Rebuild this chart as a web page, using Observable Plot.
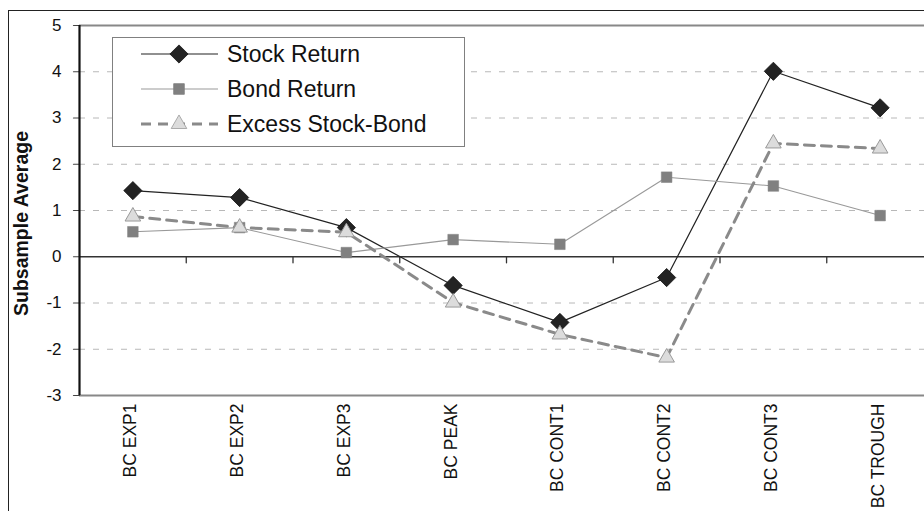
<!DOCTYPE html>
<html>
<head>
<meta charset="utf-8">
<script src="https://cdn.jsdelivr.net/npm/d3@7"></script>
<script src="https://cdn.jsdelivr.net/npm/@observablehq/plot@0.6"></script>
<style>
  html, body { margin: 0; padding: 0; background: #fff; overflow: hidden; width: 924px; height: 511px; }
  #wrap { position: relative; width: 924px; height: 511px; }
  #frame { position: absolute; left: 8px; top: 10px; width: 1000px; height: 600px;
           border-left: 1.5px solid #222; border-top: 1.5px solid #222; pointer-events: none; }
  #legend { position: absolute; left: 112px; top: 37px; width: 351px; height: 108px;
            border: 1.5px solid #808080; background: #fff; }
  #chart { position: absolute; left: 0; top: 0; }
</style>
</head>
<body>
<div id="wrap">
  <div id="chart"></div>
  <div id="frame"></div>
  <div id="legend"></div>
</div>
<script>
const categories = ["BC EXP1", "BC EXP2", "BC EXP3", "BC PEAK", "BC CONT1", "BC CONT2", "BC CONT3", "BC TROUGH"];
const stockReturn = [1.43, 1.28, 0.63, -0.62, -1.42, -0.45, 4.01, 3.22];
const bondReturn = [0.54, 0.63, 0.09, 0.37, 0.27, 1.72, 1.53, 0.89];
const excessStockBond = [0.87, 0.63, 0.53, -0.99, -1.68, -2.18, 2.45, 2.34];
const seriesNames = ["Stock Return", "Bond Return", "Excess Stock-Bond"];
const yTicks = [-3, -2, -1, 0, 1, 2, 3, 4, 5];
const yTitle = "Subsample Average";

const idx = categories.map((_, i) => i);
const bounds = idx.slice(0, -1).map(i => i + 0.5);
const FONT = "'Liberation Sans', Arial, Helvetica, sans-serif";

const stockData = idx.map(i => ({i, v: stockReturn[i]}));
const bondData = idx.map(i => ({i, v: bondReturn[i]}));
const excessData = idx.map(i => ({i, v: excessStockBond[i]}));

const tickShape = { draw(context, l) { context.moveTo(0, 0); context.lineTo(0, -l); } };

const chart = Plot.plot({
  width: 941,
  height: 511,
  marginLeft: 79,
  marginRight: 8,
  marginTop: 25,
  marginBottom: 116,
  style: { fontFamily: FONT, maxWidth: "none", background: "transparent", overflow: "visible" },
  x: { domain: [-0.5, 7.5], axis: null },
  y: { domain: [-3, 5], axis: null },
  marks: [
    Plot.gridY(yTicks.filter(t => t !== 0 && t !== 5 && t !== -3), { stroke: "#b8b8b8", strokeOpacity: 1, strokeWidth: 1, strokeDasharray: "6,8" }),
    Plot.ruleY([5], { stroke: "#888", strokeWidth: 2 }),
    Plot.ruleY([-3], { stroke: "#888", strokeWidth: 2 }),
    Plot.ruleY([0], { stroke: "#333", strokeWidth: 1.6 }),
    Plot.vector(bounds, { x: d => d, y: 0, length: 6, rotate: 180, anchor: "start", shape: tickShape, stroke: "#333", strokeWidth: 1.3 }),
    Plot.vector(yTicks, { x: -0.5, y: d => d, length: 6, rotate: -90, anchor: "start", shape: tickShape, stroke: "#444", strokeWidth: 1.2 }),
    Plot.ruleX([-0.5], { y1: -3, y2: 5, stroke: "#111", strokeWidth: 2.2 }),
    Plot.text(yTicks, { y: d => d, text: d => String(d), frameAnchor: "left", dx: -18, textAnchor: "end", lineAnchor: "middle", fontSize: 17, fill: "#111" }),
    Plot.text([yTitle], { frameAnchor: "left", dx: -58, dy: 13, rotate: -90, textAnchor: "middle", fontSize: 19.5, fontWeight: "bold", fill: "#111", lineAnchor: "middle" }),
    Plot.text(categories, { x: (d, i) => i, frameAnchor: "bottom", dy: 8, dx: -2, rotate: -90, textAnchor: "end", lineAnchor: "middle", fontSize: 17.5, fill: "#111" }),
    // Stock
    Plot.line(stockData, { x: "i", y: "v", stroke: "#222", strokeWidth: 1.2 }),
    Plot.dot(stockData, { x: "i", y: "v", symbol: "diamond2", r: 8.2, fill: "#232323", stroke: "#111", strokeWidth: 0.8 }),
    // Bond
    Plot.line(bondData, { x: "i", y: "v", stroke: "#999", strokeWidth: 1.1 }),
    Plot.dot(bondData, { x: "i", y: "v", symbol: "square", r: 6, fill: "#808080", stroke: "#808080", strokeWidth: 0.5 }),
    // Excess
    Plot.line(excessData, { x: "i", y: "v", stroke: "#8a8a8a", strokeWidth: 3, strokeDasharray: "10,7" }),
    Plot.dot(excessData, { x: "i", y: "v", symbol: "triangle", r: 5.8, fill: "#dcdcdc", stroke: "#999", strokeWidth: 1 })
  ]
});
document.getElementById("chart").appendChild(chart);

// Legend
const lg = d3.select("#legend").append("svg").attr("width", 351).attr("height", 108)
  .style("position", "absolute").style("left", 0).style("top", 0)
  .style("font-family", FONT);
const rows = [
  { name: seriesNames[0], stroke: "#222", sw: 1.2, dash: null, sym: d3.symbolDiamond2, r: 8.2, fill: "#232323", sstroke: "#111" },
  { name: seriesNames[1], stroke: "#999", sw: 1.1, dash: null, sym: d3.symbolSquare, r: 6, fill: "#808080", sstroke: "#808080" },
  { name: seriesNames[2], stroke: "#8a8a8a", sw: 3, dash: "10,7", sym: d3.symbolTriangle, r: 5.8, fill: "#dcdcdc", sstroke: "#999" }
];
rows.forEach((row, k) => {
  const cy = 16 + k * 35;
  lg.append("line").attr("x1", 28).attr("x2", 105).attr("y1", cy).attr("y2", cy)
    .attr("stroke", row.stroke).attr("stroke-width", row.sw).attr("stroke-dasharray", row.dash);
  lg.append("path").attr("transform", `translate(66,${cy})`)
    .attr("d", d3.symbol(row.sym, Math.PI * row.r * row.r)())
    .attr("fill", row.fill).attr("stroke", row.sstroke).attr("stroke-width", 0.8);
  lg.append("text").attr("x", 114).attr("y", cy).attr("dy", "0.35em")
    .attr("font-size", 23).attr("fill", "#111").text(row.name);
});
</script>
</body>
</html>
